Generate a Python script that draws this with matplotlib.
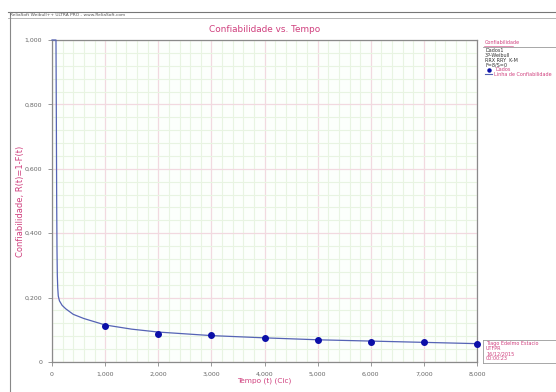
import matplotlib
matplotlib.use("Agg")
import matplotlib.pyplot as plt
from matplotlib.lines import Line2D
from matplotlib.ticker import FuncFormatter, MultipleLocator

# ---- data ----
tempo_dados = [1000, 2000, 3000, 4000, 5000, 6000, 7000, 8000]
conf_dados = [0.112, 0.087, 0.084, 0.076, 0.068, 0.061, 0.062, 0.056]

tempo_linha = [0, 75, 82, 88, 94, 100, 108, 118, 140, 190, 260, 400, 600, 1000,
               1500, 2000, 3000, 4000, 5000, 6000, 7000, 8000]
conf_linha = [1.0, 1.0, 0.75, 0.5, 0.35, 0.27, 0.23, 0.205, 0.19, 0.176, 0.165,
              0.148, 0.135, 0.115, 0.102, 0.093, 0.082, 0.075, 0.069, 0.065,
              0.061, 0.057]

x_ticks = [0, 1000, 2000, 3000, 4000, 5000, 6000, 7000, 8000]
y_ticks = [0, 0.2, 0.4, 0.6, 0.8, 1.0]

PINK = "#d0407e"
W, H = 556, 392

fig = plt.figure(figsize=(W / 100, H / 100), dpi=100)
fig.patch.set_facecolor("white")

ax = fig.add_axes([52 / W, 1 - 362 / H, (477 - 52) / W, (362 - 40) / H])
ax.set_facecolor("#fcfffc")
ax.set_xlim(0, 8000)
ax.set_ylim(0, 1.0)

ax.xaxis.set_major_locator(MultipleLocator(1000))
ax.xaxis.set_minor_locator(MultipleLocator(200))
ax.yaxis.set_major_locator(MultipleLocator(0.2))
ax.yaxis.set_minor_locator(MultipleLocator(0.04))
ax.set_xticks(x_ticks)
ax.set_yticks(y_ticks)
ax.xaxis.set_major_formatter(FuncFormatter(lambda v, p: "0" if v == 0 else f"{int(v):,}"))
ax.yaxis.set_major_formatter(FuncFormatter(lambda v, p: "0" if v == 0 else f"{v:.3f}".replace(".", ",")))

ax.grid(which="minor", color="#e8f4e2", linewidth=0.8, zorder=0)
ax.grid(which="major", color="#f2d9e0", linewidth=0.9, zorder=0)
ax.set_axisbelow(True)

ax.tick_params(which="major", length=3, width=0.6, color="#888888",
               labelsize=4.5, labelcolor="#666666", pad=4)
ax.tick_params(which="minor", length=0)
for s in ax.spines.values():
    s.set_color("#8a8a8a")
    s.set_linewidth(0.9)

ax.plot(tempo_linha, conf_linha, color="#5563b5", linewidth=0.9, zorder=3,
        clip_on=False)
ax.plot(tempo_dados, conf_dados, "o", color="#0b0fa8", markersize=4, zorder=4,
        clip_on=False)

ax.set_title("Confiabilidade vs. Tempo", color=PINK, fontsize=6.4, pad=6)
ax.set_xlabel("Tempo (t) (Cic)", color=PINK, fontsize=5.3)
ax.set_ylabel("Confiabilidade, R(t)=1-F(t)", color=PINK, fontsize=6)
ax.xaxis.set_label_coords(0.5, (362 - 381) / 322)
ax.yaxis.set_label_coords((21 - 52) / 425, 0.5)
ax.xaxis.label.set_va("center")
ax.yaxis.label.set_va("center")

# ---- frame and header ----
def fx(x):
    return x / W

def fy(y):
    return 1 - y / H

fig.add_artist(Line2D([fx(8), 1], [fy(12), fy(12)], color="#777777", lw=0.8))
fig.add_artist(Line2D([fx(8), 1], [fy(18), fy(18)], color="#aaaaaa", lw=0.6))
fig.add_artist(Line2D([fx(10), fx(10)], [fy(12), fy(392)], color="#888888", lw=0.8))
fig.text(fx(10), fy(15), "ReliaSoft Weibull++ ULTRA PRO - www.ReliaSoft.com",
         fontsize=3.2, color="#555555", va="center", ha="left")

# ---- legend panel ----
lx = 485
fs = 3.5
fig.text(fx(lx), fy(43), "Confiabilidade", fontsize=fs, color=PINK,
         va="center", ha="left")
fig.add_artist(Line2D([fx(484), fx(513)], [fy(45.5), fy(45.5)], color=PINK, lw=0.4))
fig.add_artist(Line2D([fx(483), 1], [fy(47), fy(47)], color="#999999", lw=0.6))
for i, t in enumerate(["Dados1", "3P-Weibull", "RRX RRY  K-M", "F=8/S=0"]):
    fig.text(fx(lx), fy(51 + 4.6 * i), t, fontsize=fs, color="#333333",
             va="center", ha="left")
fig.add_artist(Line2D([fx(489)], [fy(69.5)], marker="o", color="#0b0fa8",
                      markersize=2.2, lw=0))
fig.text(fx(495), fy(69.5), "Dados", fontsize=fs, color=PINK, va="center", ha="left")
fig.add_artist(Line2D([fx(485), fx(492)], [fy(74), fy(74)], color="#5563b5", lw=0.8))
fig.text(fx(494), fy(74), "Linha de Confiabilidade", fontsize=fs, color=PINK,
         va="center", ha="left")

# ---- info box ----
fig.add_artist(Line2D([fx(483), 1], [fy(340), fy(340)], color="#999999", lw=0.6))
fig.add_artist(Line2D([fx(483), 1], [fy(363), fy(363)], color="#999999", lw=0.6))
fig.add_artist(Line2D([fx(483), fx(483)], [fy(340), fy(363)], color="#999999", lw=0.6))
for i, t in enumerate(["Tiago Edelmo Estacio", "UTFPR", "16/12/2015", "00:00:23"]):
    fig.text(fx(486), fy(344 + 5 * i), t, fontsize=fs, color=PINK,
             va="center", ha="left")

fig.savefig("out.png", dpi=100)
